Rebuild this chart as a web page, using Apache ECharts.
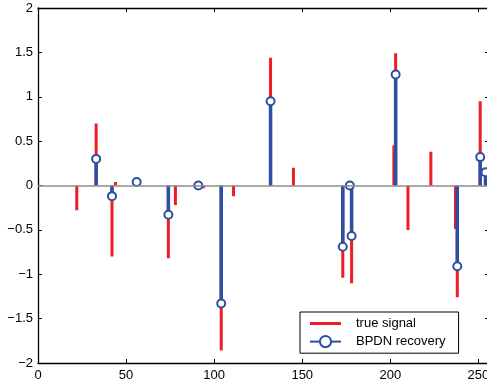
<!DOCTYPE html>
<html>
<head>
<meta charset="utf-8">
<script src="https://cdn.jsdelivr.net/npm/echarts@6/dist/echarts.min.js"></script>
<style>
html,body{margin:0;padding:0;background:#fff;overflow:hidden;}
#c{width:487px;height:387px;}
</style>
</head>
<body>
<div id="c"></div>
<script>
// true signal (index, value)
const trueIdx = [22, 33, 42, 44, 74, 78, 94, 104, 111, 132, 145, 173, 178, 202, 203, 210, 223, 237, 238, 251];
const trueVal = [-0.28, 0.70, -0.80, 0.04, -0.82, -0.22, -0.03, -1.86, -0.12, 1.44, 0.20, -1.04, -1.10, 0.45, 1.49, -0.50, 0.38, -0.49, -1.26, 0.95];
// BPDN recovery (index, value)
const recIdx = [33, 42, 56, 74, 91, 104, 132, 173, 177, 178, 203, 238, 251, 254];
const recVal = [0.30, -0.12, 0.04, -0.33, 0.00, -1.33, 0.95, -0.69, 0.00, -0.57, 1.25, -0.91, 0.32, 0.15];
const xTicks = [0, 50, 100, 150, 200, 250];
const yTicks = [-2, -1.5, -1, -0.5, 0, 0.5, 1, 1.5, 2];

const RED = '#ee1d25';
const BLUE = '#2c4fa2';
const FONT = 'Liberation Sans';

function stems(idx, val, marker) {
  const d = [];
  idx.forEach((x, i) => {
    d.push({value: [x, 0], symbol: 'none'});
    d.push(marker ? {value: [x, val[i]]} : {value: [x, val[i]], symbol: 'none'});
    d.push({value: [x, '-'], symbol: 'none'});
  });
  return d;
}

const fmt = v => String(v).replace('-', '\u2212');

const chart = echarts.init(document.getElementById('c'), null, {renderer: 'canvas'});
const axCommon = {
  axisLine: {show: true, onZero: false, lineStyle: {color: '#000', width: 1.3}},
  axisTick: {show: true, inside: true, length: 4, lineStyle: {color: '#000', width: 1}},
  splitLine: {show: false}
};
chart.setOption({
  animation: false,
  backgroundColor: '#fff',
  grid: {left: 38, top: 8, width: 451, height: 355, containLabel: false, outerBoundsMode: 'none'},
  xAxis: [
    Object.assign({type: 'value', min: 0, max: 256, interval: 50, position: 'bottom',
      axisLabel: {color: '#000', fontFamily: FONT, fontSize: 13, margin: 6, formatter: fmt}}, axCommon),
    Object.assign({type: 'value', min: 0, max: 256, interval: 50, position: 'top',
      axisLabel: {show: false}}, axCommon)
  ],
  yAxis: [
    Object.assign({type: 'value', min: -2, max: 2, interval: 0.5, position: 'left',
      axisLabel: {color: '#000', fontFamily: FONT, fontSize: 13, margin: 5, formatter: fmt}}, axCommon),
    Object.assign({type: 'value', min: -2, max: 2, interval: 0.5, position: 'right',
      axisLabel: {show: false}}, axCommon)
  ],
  legend: {
    orient: 'vertical', left: 300, top: 312,
    padding: [5, 13, 5, 9], itemGap: 5, itemWidth: 31, itemHeight: 14,
    borderColor: '#000', borderWidth: 1, backgroundColor: '#fff',
    textStyle: {color: '#000', fontFamily: FONT, fontSize: 13, padding: [0, 0, 0, 10]},
    data: [
      {name: 'true signal', icon: 'path://M0,0 L31,0 L31,3 L0,3 Z'},
      {name: 'BPDN recovery'}
    ]
  },
  series: [
    {
      type: 'line', name: 'true signal', data: stems(trueIdx, trueVal, false),
      symbol: 'none', connectNulls: false, z: 3,
      lineStyle: {color: RED, width: 3, cap: 'butt'}, itemStyle: {color: RED},
      markLine: {
        silent: true, symbol: 'none', label: {show: false},
        lineStyle: {color: '#8c8c8c', width: 1.5, type: 'solid'},
        data: [{yAxis: 0}]
      }
    },
    {
      type: 'line', name: 'BPDN recovery', data: stems(recIdx, recVal, true),
      symbol: 'emptyCircle', symbolSize: 8, showSymbol: true, showAllSymbol: true,
      connectNulls: false, z: 4,
      lineStyle: {color: BLUE, width: 3.5, cap: 'butt'},
      itemStyle: {color: BLUE, borderColor: BLUE, borderWidth: 3.5}
    }
  ]
});
</script>
</body>
</html>
